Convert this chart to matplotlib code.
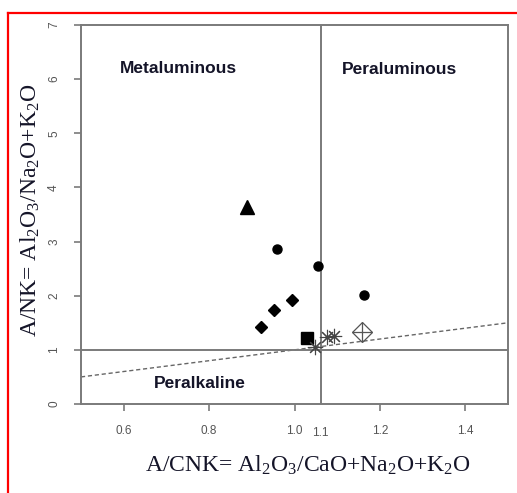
import matplotlib
matplotlib.use("Agg")
import matplotlib.pyplot as plt
from matplotlib.lines import Line2D

# A/CNK (x) vs A/NK (y), one list per symbol group
TRI_X, TRI_Y = [0.889], [3.64]
CIRC_X, CIRC_Y = [0.959, 1.054, 1.163], [2.86, 2.55, 2.01]
DIAM_X, DIAM_Y = [0.922, 0.951, 0.993], [1.42, 1.73, 1.92]
SQ_X, SQ_Y = [1.030], [1.22]
AST_X, AST_Y = [1.049, 1.077, 1.093], [1.05, 1.23, 1.25]
DPLUS_X, DPLUS_Y = [1.158], [1.33]

V_LINE = 1.061          # A/CNK boundary as drawn (labelled "1.1")
H_LINE = 1.0            # A/NK = 1
DASH_X = [0.5, 1.5]     # A/NK = A/CNK dashed reference
DASH_Y = [0.5, 1.5]

XTICKS = [0.6, 0.8, 1.0, 1.2, 1.4]
YTICKS = [0, 1, 2, 3, 4, 5, 6, 7]

GRAY = "#7a7a7a"
TXT = "#141428"

plt.rcParams.update({
    "font.family": ["Liberation Sans", "DejaVu Sans"],
    "mathtext.fontset": "custom",
    "mathtext.rm": "Liberation Serif",
    "mathtext.it": "Liberation Serif:italic",
})

W, H = 517, 493
fig = plt.figure(figsize=(W / 100, H / 100), dpi=100)
ax = fig.add_axes([81 / W, 1 - 404 / H, (508 - 81) / W, (404 - 25) / H])

ax.plot(DASH_X, DASH_Y, ls=(0, (3, 2)), color="#666666", lw=1.0, zorder=1)
ax.axhline(H_LINE, color=GRAY, lw=1.4, zorder=1)
ax.axvline(V_LINE, color=GRAY, lw=1.4, zorder=1)

ax.plot(TRI_X, TRI_Y, "^", color="black", ms=10.5, ls="", zorder=3)
ax.plot(CIRC_X, CIRC_Y, "o", color="black", ms=6.5, ls="", zorder=3)
ax.plot(DIAM_X, DIAM_Y, "D", color="black", ms=6.3, ls="", zorder=3)
ax.plot(SQ_X, SQ_Y, "s", color="black", ms=8.5, ls="", zorder=3)
ax.plot(AST_X, AST_Y, marker=(8, 2, 0), color="#444444", ms=11, mew=0.8, ls="", zorder=3)
ax.plot(DPLUS_X, DPLUS_Y, "D", mfc="none", mec="#555555", ms=10, mew=0.9, ls="", zorder=3)
ax.plot(DPLUS_X, DPLUS_Y, "+", color="#555555", ms=14, mew=0.9, ls="", zorder=3)

ax.set_xlim(0.5, 1.5)
ax.set_ylim(0, 7)
ax.set_xticks(XTICKS)
ax.set_xticklabels([f"{v:.1f}" for v in XTICKS])
ax.set_yticks(YTICKS)
ax.set_yticklabels([str(v) for v in YTICKS], rotation=90, va="center")
ax.tick_params(axis="both", colors=GRAY, labelcolor="#555555", labelsize=8.5,
               length=5, width=1.2, direction="out")
ax.tick_params(axis="x", pad=10)
ax.tick_params(axis="y", pad=10)
ax.text(V_LINE, -0.06, "1.1", transform=ax.get_xaxis_transform(), ha="center",
        va="top", fontsize=8.5, color="#555555")
for sp in ax.spines.values():
    sp.set_color(GRAY)
    sp.set_linewidth(1.4)

ax.text(0.729, 6.2, "Metaluminous", ha="center", va="center", fontsize=12.5,
        fontweight="bold", color=TXT)
ax.text(1.246, 6.17, "Peraluminous", ha="center", va="center", fontsize=12.5,
        fontweight="bold", color=TXT)
ax.text(0.778, 0.37, "Peralkaline", ha="center", va="center", fontsize=12.5,
        fontweight="bold", color=TXT)

fig.text(308 / W, 1 - 465 / H, r"A/CNK= Al$_2$O$_3$/CaO+Na$_2$O+K$_2$O",
         ha="center", va="center", fontsize=17, family="Liberation Serif", color=TXT)
fig.text(30 / W, 1 - 210 / H, r"A/NK= Al$_2$O$_3$/Na$_2$O+K$_2$O", rotation=90,
         ha="center", va="center", fontsize=17, family="Liberation Serif", color=TXT)

# red frame (left and top edges)
fig.add_artist(Line2D([8 / W, 8 / W], [0, 1 - 13 / H], color="red", lw=1.6,
                      transform=fig.transFigure))
fig.add_artist(Line2D([8 / W, 1], [1 - 13 / H, 1 - 13 / H], color="red", lw=1.6,
                      transform=fig.transFigure))

fig.savefig("out.png", dpi=100)
